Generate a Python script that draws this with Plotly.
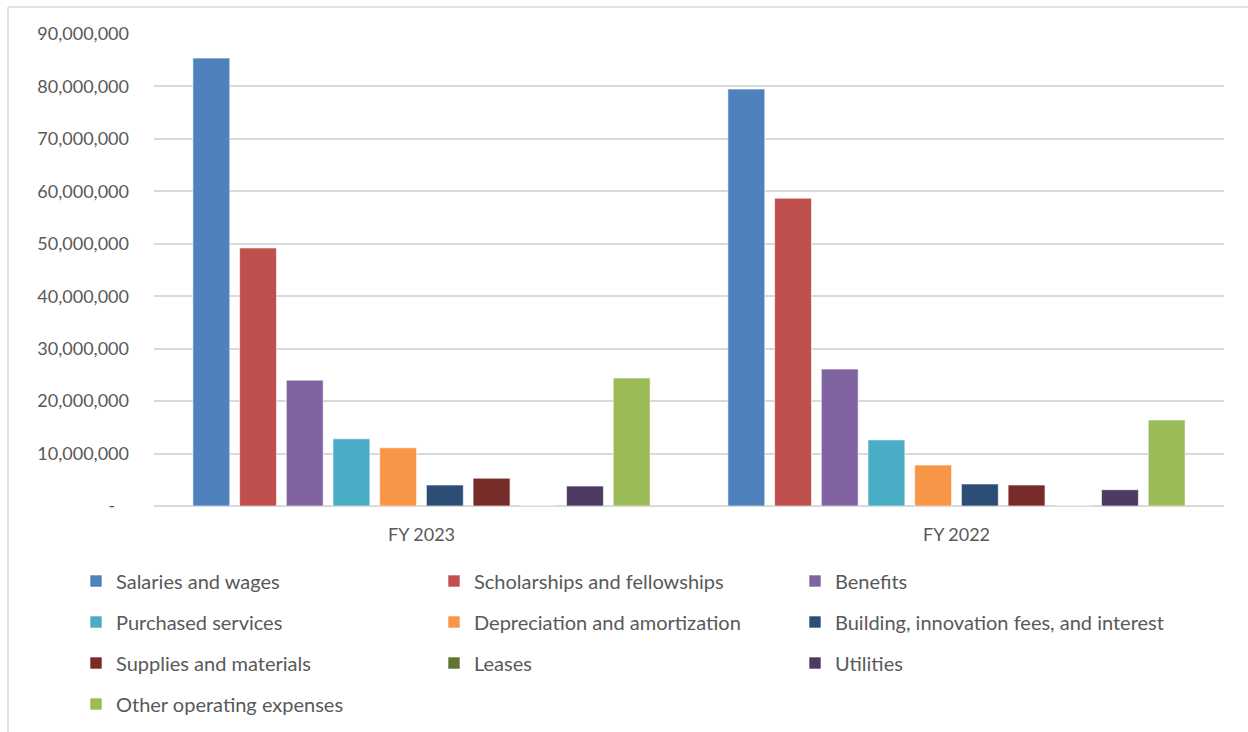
import plotly.graph_objects as go

categories = ["FY 2023", "FY 2022"]
series_names = [
    "Salaries and wages",
    "Scholarships and fellowships",
    "Benefits",
    "Purchased services",
    "Depreciation and amortization",
    "Building, innovation fees, and interest",
    "Supplies and materials",
    "Leases",
    "Utilities",
    "Other operating expenses",
]
salaries = [85400000, 79500000]
scholarships = [49200000, 58700000]
benefits = [24000000, 26100000]
purchased = [12800000, 12600000]
depreciation = [11100000, 7800000]
building = [4000000, 4200000]
supplies = [5300000, 4000000]
leases = [0, 0]
utilities = [3800000, 3100000]
other = [24400000, 16400000]
values = [salaries, scholarships, benefits, purchased, depreciation,
          building, supplies, leases, utilities, other]
colors = ["#4F81BD", "#C0504D", "#8064A2", "#4BACC6", "#F79646",
          "#2C4D75", "#772C2A", "#5F7530", "#4D3B62", "#9BBB59"]

tick_vals = [0, 10000000, 20000000, 30000000, 40000000, 50000000,
             60000000, 70000000, 80000000, 90000000]
tick_text = ["-\u00a0\u00a0\u00a0"] + [f"{v:,}" for v in tick_vals[1:]]

W, H = 1248, 732
L, R, T, B = 154, 24, 34, 226
pw, ph = W - L - R, H - T - B

def px_to_paper_x(px):
    return (px - L) / pw

def py_to_paper_y(py):
    return (H - B - py) / ph

font_family = "Lato, 'Open Sans', sans-serif"

# legend grid: 3 columns, rows of 41 px
col_x = [76, 434, 795]
row_y = [581, 622, 663, 704]

fig = go.Figure()
legend_defs = {}
for i, (name, vals, col) in enumerate(zip(series_names, values, colors)):
    key = "legend" if i == 0 else f"legend{i + 1}"
    fig.add_trace(go.Bar(
        name=name, x=categories, y=vals,
        marker=dict(color=col, line=dict(color="rgba(255,255,255,0.6)", width=1)),
        legend=key,
    ))
    r, c = divmod(i, 3)
    legend_defs[key] = dict(
        orientation="h",
        x=px_to_paper_x(col_x[c]), y=py_to_paper_y(row_y[r]),
        xanchor="left", yanchor="middle",
        font=dict(family=font_family, size=20, color="#595959"),
        bgcolor="rgba(0,0,0,0)",
    )

fig.update_layout(
    width=W, height=H,
    margin=dict(l=L, r=R, t=T, b=B, autoexpand=False),
    paper_bgcolor="white", plot_bgcolor="white",
    barmode="group", bargap=0.127, bargroupgap=0.21,
    font=dict(family=font_family, size=18, color="#595959"),
    showlegend=True,
    **legend_defs,
    xaxis=dict(
        showgrid=False, showline=False, zeroline=False,
        tickfont=dict(family=font_family, size=18, color="#595959"),
        ticks="", ticklabelstandoff=16,
    ),
    yaxis=dict(
        range=[0, 90000000],
        tickvals=tick_vals, ticktext=tick_text,
        showgrid=True, gridcolor="#D9D9D9", gridwidth=1.5,
        zeroline=True, zerolinecolor="#D9D9D9", zerolinewidth=1.5,
        showline=False, ticks="",
        tickfont=dict(family=font_family, size=18, color="#595959"),
        ticklabelstandoff=24,
    ),
    shapes=[
        dict(type="line", xref="paper", yref="paper",
             x0=px_to_paper_x(8), x1=px_to_paper_x(1260),
             y0=py_to_paper_y(7), y1=py_to_paper_y(7),
             line=dict(color="#D9D9D9", width=1.5)),
        dict(type="line", xref="paper", yref="paper",
             x0=px_to_paper_x(8), x1=px_to_paper_x(8),
             y0=py_to_paper_y(7), y1=py_to_paper_y(740),
             line=dict(color="#D9D9D9", width=1.5)),
    ],
)

fig.write_html("out.html")
